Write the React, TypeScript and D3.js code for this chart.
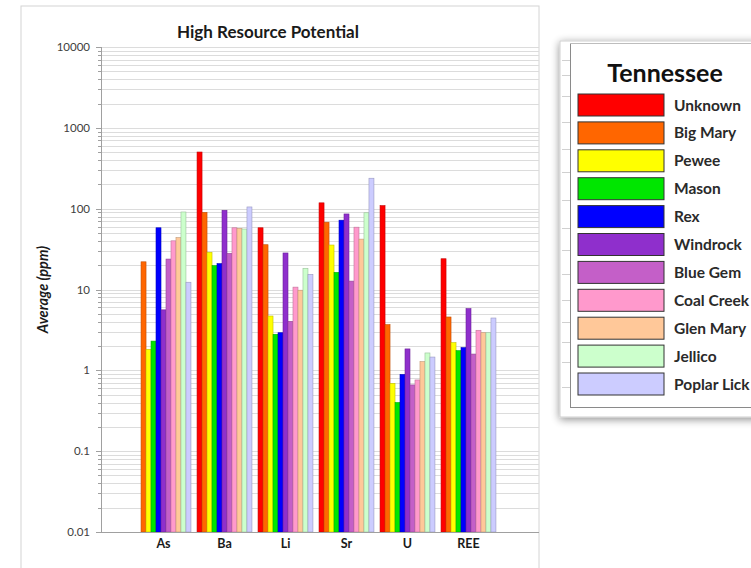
import React from "react";
import * as d3 from "d3";

const categories = ["As", "Ba", "Li", "Sr", "U", "REE"];
const seriesNames = ["Unknown", "Big Mary", "Pewee", "Mason", "Rex", "Windrock", "Blue Gem", "Coal Creek", "Glen Mary", "Jellico", "Poplar Lick"];
const seriesColors = ["#ff0000", "#ff6600", "#ffff00", "#00e600", "#0000ff", "#8f2fcc", "#c45fc8", "#ff99cc", "#ffc899", "#ccffcc", "#ccccff"];

// values per series, in category order As, Ba, Li, Sr, U, REE
const unknown = [null, 502, 58, 118, 109, 24];
const bigMary = [22, 90, 35.8, 68, 3.67, 4.57];
const pewee = [1.82, 28.9, 4.7, 35.5, 0.69, 2.2];
const mason = [2.3, 19.7, 2.79, 16.3, 0.4, 1.75];
const rex = [58, 20.9, 2.92, 72, 0.89, 1.91];
const windrock = [5.6, 95.5, 28.3, 86, 1.84, 5.8];
const blueGem = [23.8, 28, 4.04, 12.7, 0.66, 1.59];
const coalCreek = [40, 58, 10.7, 59, 0.76, 3.13];
const glenMary = [43.8, 57, 9.8, 42, 1.28, 2.92];
const jellico = [91, 56, 18.3, 89, 1.64, 2.92];
const poplarLick = [12.3, 105, 15.4, 238, 1.46, 4.44];

const seriesValues = [unknown, bigMary, pewee, mason, rex, windrock, blueGem, coalCreek, glenMary, jellico, poplarLick];
const yTicks = [0.01, 0.1, 1, 10, 100, 1000, 10000];
const yTickLabels = ["0.01", "0.1", "1", "10", "100", "1000", "10000"];

const FONT = "Lato, 'Open Sans', sans-serif";

export default function App() {
  const W = 751, H = 568;
  const plotL = 101, plotR = 539, plotT = 47, plotB = 532;
  const y = d3.scaleLog().domain([0.01, 10000]).range([plotB, plotT]);
  const x0 = d3.scaleBand<string>().domain(categories).range([133, 499]).paddingInner(0.1).paddingOuter(0.05);
  const x1 = d3.scaleBand<string>().domain(seriesNames).range([0, x0.bandwidth()]);

  const minor: number[] = [];
  for (let e = -2; e < 4; e++) {
    for (let m = 1; m < 10; m++) minor.push(m * Math.pow(10, e));
  }
  minor.push(10000);

  const legendX = 578, legendTop = 94, legendStep = 27.9, swW = 86, swH = 22;

  return (
    <svg width={W} height={H} style={{ position: "absolute", left: 0, top: 0, background: "#fff" }} fontFamily={FONT}>
      <defs>
        <filter id="shadow" x="-10%" y="-10%" width="130%" height="130%">
          <feGaussianBlur in="SourceAlpha" stdDeviation="4" />
          <feOffset dx="0" dy="2" result="b" />
          <feComponentTransfer><feFuncA type="linear" slope="0.45" /></feComponentTransfer>
          <feMerge><feMergeNode /><feMergeNode in="SourceGraphic" /></feMerge>
        </filter>
      </defs>
      {/* chart border */}
      <rect x={21} y={6} width={plotR - 21} height={H} fill="#fff" stroke="#d4d4d4" strokeWidth={1} />
      <text x={268} y={38} textAnchor="middle" fontSize={17} fontWeight="bold" fill="#1a1a1a">High Resource Potential</text>

      {/* gridlines */}
      {minor.map((v, i) => (
        <line key={"g" + i} x1={plotL} x2={plotR} y1={Math.round(y(v)) + 0.5} y2={Math.round(y(v)) + 0.5} stroke="#dcdcdc" strokeWidth={1} />
      ))}
      {/* minor ticks */}
      {minor.map((v, i) => (
        <line key={"t" + i} x1={plotL - 3} x2={plotL} y1={Math.round(y(v)) + 0.5} y2={Math.round(y(v)) + 0.5} stroke="#a0a0a0" strokeWidth={1} />
      ))}
      {yTicks.map((v, i) => (
        <g key={"yt" + i}>
          <line x1={plotL - 5} x2={plotL} y1={Math.round(y(v)) + 0.5} y2={Math.round(y(v)) + 0.5} stroke="#a0a0a0" />
          <text x={plotL - 11} y={y(v) + 4} textAnchor="end" fontSize={11.5} fill="#404040">{yTickLabels[i]}</text>
        </g>
      ))}

      {/* bars */}
      {categories.map((c, ci) => (
        <g key={c} transform={`translate(${x0(c)},0)`}>
          {seriesNames.map((s, si) => {
            const v = seriesValues[si][ci];
            if (v == null) return null;
            const top = y(v);
            const col = seriesColors[si];
            return (
              <rect key={s} x={x1(s)} y={top} width={x1.bandwidth()} height={plotB - top}
                fill={col} stroke={d3.color(col)!.darker(0.8).formatHex()} strokeWidth={0.6} />
            );
          })}
        </g>
      ))}

      {/* axes */}
      <line x1={plotL + 0.5} x2={plotL + 0.5} y1={plotT} y2={plotB} stroke="#a0a0a0" />
      <line x1={plotL - 5} x2={plotR} y1={plotB + 0.5} y2={plotB + 0.5} stroke="#a0a0a0" />
      {categories.map((c) => (
        <text key={"xl" + c} x={(x0(c) as number) + x0.bandwidth() / 2} y={548} textAnchor="middle" fontSize={12.5} fontWeight="bold" fill="#1a1a1a">{c}</text>
      ))}
      <text transform={`translate(48,${(plotT + plotB) / 2}) rotate(-90)`} textAnchor="middle" fontSize={14.5} fontWeight="bold" fontStyle="italic" fill="#1a1a1a">Average (ppm)</text>

      {/* legend */}
      <g filter="url(#shadow)">
        <rect x={560} y={41} width={200} height={376} fill="#fff" stroke="#cfcfcf" />
      </g>
      <line x1={570.5} x2={570.5} y1={43} y2={407} stroke="#8a8a8a" />
      <line x1={570} x2={760} y1={407.5} y2={407.5} stroke="#8a8a8a" />
      <line x1={570} x2={760} y1={43.5} y2={43.5} stroke="#bdbdbd" />
      {[60, 75, 96, 122, 149, 172, 200, 228, 250, 274, 300, 322, 342, 362, 387].map((ty, i) => (
        <line key={"lt" + i} x1={562} x2={570} y1={ty + 0.5} y2={ty + 0.5} stroke="#d0d0d0" />
      ))}
      <text x={665} y={82} textAnchor="middle" fontSize={25} fontWeight="bold" fill="#111">Tennessee</text>
      {seriesNames.map((s, i) => (
        <g key={"lg" + s}>
          <rect x={legendX} y={legendTop + i * legendStep} width={swW} height={swH} fill={seriesColors[i]} stroke="#333" strokeWidth={1} />
          <text x={674} y={legendTop + i * legendStep + swH / 2 + 5.5} fontSize={15.5} fontWeight="bold" fill="#2a2a2a">{s}</text>
        </g>
      ))}
    </svg>
  );
}
